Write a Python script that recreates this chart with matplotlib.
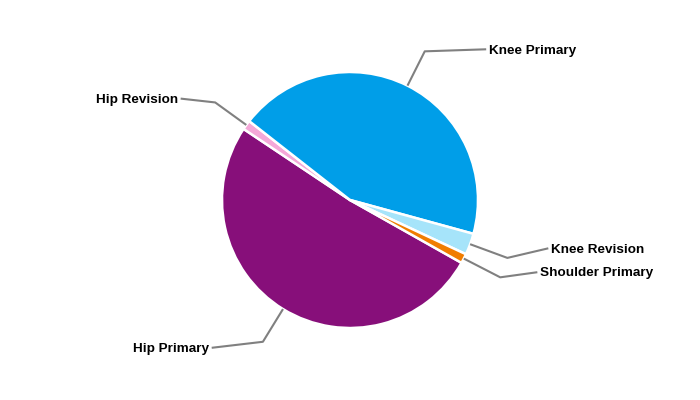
import numpy as np
import matplotlib.pyplot as plt

# datos de la grafica (porcentajes)
categorias = ['Hip Primary', 'Hip Revision', 'Knee Primary', 'Knee Revision', 'Shoulder Primary']
valores = [51.1, 1.2, 43.6, 2.7, 1.2]
colores = ['#870f7a', '#f4a8d8', '#009ee8', '#a6e4fa', '#f07d00']

# desplazamiento del texto desde el codo de la linea guia (unidades de radio)
texto_dx = [-0.40, -0.27, 0.48, 0.32, 0.29]
texto_dy = [-0.047, 0.03, 0.016, 0.075, 0.04]
codo = [1.3, 1.3, 1.3, 1.31, 1.32]

fig = plt.figure(figsize=(7, 4), dpi=100)
ax = fig.add_axes([0, 0, 1, 1])

wedges, _ = ax.pie(valores, colors=colores, startangle=-29.4, counterclock=False,
                   radius=1, wedgeprops=dict(edgecolor='white', linewidth=1.8))

for w, nombre, dx, dy, k in zip(wedges, categorias, texto_dx, texto_dy, codo):
    ang = np.deg2rad((w.theta1 + w.theta2) / 2)
    x0, y0 = np.cos(ang), np.sin(ang)
    x1, y1 = k * x0, k * y0
    x2, y2 = x1 + dx, y1 + dy
    ax.plot([x0, x1, x2], [y0, y1, y2], color='#808080', lw=1.5, solid_capstyle='butt')
    ha = 'left' if dx > 0 else 'right'
    sep = 0.02 if dx > 0 else -0.02
    ax.text(x2 + sep, y2 - 0.01, nombre, ha=ha, va='center', fontsize=9.7,
            fontweight='bold', family='Liberation Sans', color='black')

ax.set_xlim(-350 / 128, 350 / 128)
ax.set_ylim(-200 / 128, 200 / 128)
ax.set_aspect('auto')
ax.axis('off')

fig.savefig('out.png', dpi=100, facecolor='white')
